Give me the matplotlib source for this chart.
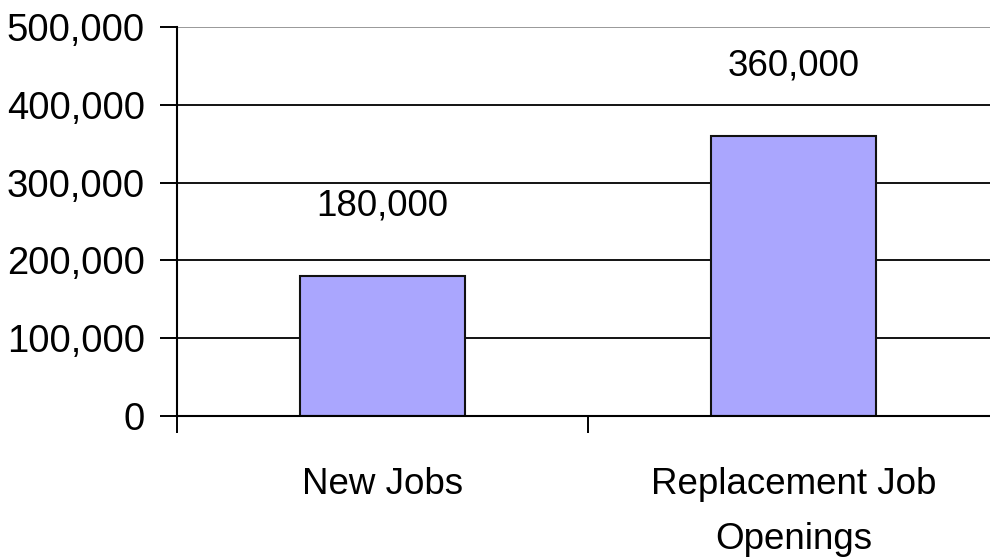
import matplotlib
matplotlib.use("Agg")
import matplotlib.pyplot as plt
from matplotlib.ticker import FuncFormatter, FixedLocator

categories = ["New Jobs", "Replacement Job\nOpenings"]
values = [180000, 360000]
yticks = [0, 100000, 200000, 300000, 400000, 500000]

plt.rcParams["font.family"] = ["Liberation Sans", "DejaVu Sans"]

fig = plt.figure(figsize=(9.9, 5.59), dpi=100)
ax = fig.add_axes([177 / 990, 1 - 416 / 559, 1 - 177 / 990, (416 - 27) / 559])

x = list(range(len(categories)))
ax.bar(x, values, width=0.4, color="#aaa6fe", edgecolor="#111111",
       linewidth=1.5, zorder=3)

for xi, v in zip(x, values):
    ax.text(xi, v + 90000, f"{v:,}", ha="center", va="center",
            fontsize=26.5, color="black", zorder=4)

# horizontal grid lines
for t in yticks[1:]:
    ax.axhline(t, color="#999999" if t == yticks[-1] else "black",
               linewidth=1.4 if t == yticks[-1] else 1.3, zorder=1)

ax.yaxis.set_major_locator(FixedLocator(yticks))
ax.yaxis.set_major_formatter(FuncFormatter(lambda v, p: f"{int(v):,}"))
ax.tick_params(axis="y", length=12, width=1.4, direction="out",
               labelsize=27.5, pad=11, color="black")

ax.set_xticks(x)
ax.set_xticklabels(categories, linespacing=1.72)
ax.set_xticks([-0.5, 0.5, 1.5], minor=True)
ax.tick_params(axis="x", which="major", length=0, labelsize=26.5, pad=37)
ax.tick_params(axis="x", which="minor", length=12, width=1.4, direction="out",
               color="black")

ax.set_ylim(0, 500000)
ax.set_xlim(-0.5, 1.478)

for side in ("top", "right"):
    ax.spines[side].set_visible(False)
ax.spines["left"].set_linewidth(1.5)
ax.spines["bottom"].set_linewidth(1.5)
ax.spines["left"].set_zorder(5)
ax.spines["bottom"].set_zorder(5)

fig.savefig("out.png", dpi=100)
